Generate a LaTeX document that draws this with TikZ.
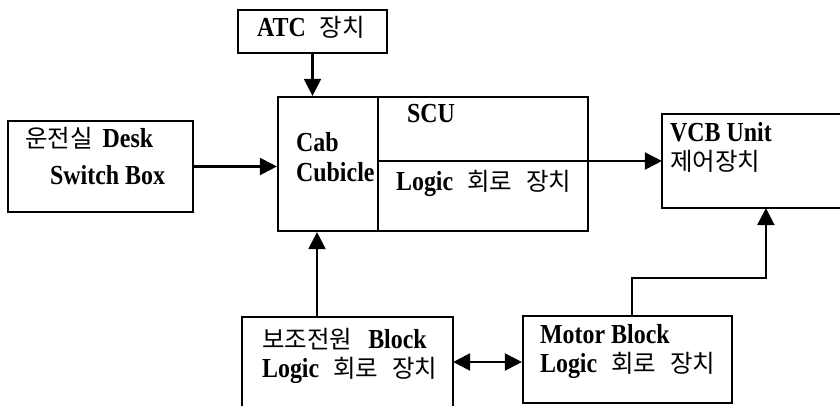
\documentclass[tikz,border=0pt]{standalone}
\usepackage{fontspec}
\setmainfont[FakeStretch=0.87]{Liberation Serif}
\newfontfamily\kfont{Noto Sans CJK KR}
\usetikzlibrary{arrows.meta}
\newcommand\ko[1]{{\kfont\fontsize{24.5}{28}\selectfont\mdseries #1}}
\newcommand\wsp{\hspace{14pt}}
\begin{document}
\begin{tikzpicture}[x=1pt,y=-1pt,line width=2.2pt,
  box/.style={rectangle,inner sep=0pt},
  lbl/.style={anchor=base west,inner sep=0pt,font=\fontsize{27.5}{30}\selectfont\bfseries},
  arr/.style={-{Triangle[length=17pt,width=17pt]}},
  dbl/.style={{Triangle[length=17pt,width=17pt]}-{Triangle[length=17pt,width=17pt]}}]
\useasboundingbox (0,0) rectangle (840,406);
% boxes
\node[box,draw,minimum width=149pt,minimum height=43pt] (atc) at (312.5,31.5) {};
\node[box,draw,minimum width=185pt,minimum height=91pt] (desk) at (100.5,166.5) {};
\node[box,draw,minimum width=310pt,minimum height=134pt] (main) at (433,164) {};
\node[box,minimum width=177pt,minimum height=92pt] (vcb) at (751.5,161) {};
\node[box,minimum width=209pt,minimum height=92pt] (aux) at (347.5,364) {};
\node[box,draw,minimum width=209pt,minimum height=87pt] (motor) at (627.5,359.5) {};
\draw (vcb.north east) -- (vcb.north west) -- (vcb.south west) -- (vcb.south east);
\draw (aux.south west) -- (aux.north west) -- (aux.north east) -- (aux.south east);
% main box dividers
\coordinate (dtop) at ([xshift=101pt]main.north west);
\coordinate (dbot) at ([xshift=101pt]main.south west);
\coordinate (div) at (379,161);
\draw (dtop) -- (dbot);
% labels
\node[lbl] (tatc) at (256,37) {ATC\wsp\ko{장치}};
\node[lbl] (tdesk1) at (24,148) {\ko{운전실}\hspace{10pt}Desk};
\node[lbl] (tdesk2) at (49,185) {Switch Box};
\node[lbl] (tcab1) at (295,152) {Cab};
\node[lbl] (tcab2) at (295,182) {Cubicle};
\node[lbl] (tscu) at (406,123) {SCU};
\node[lbl] (tlog1) at (395,191) {Logic\wsp\ko{회로}\wsp\ko{장치}};
\node[lbl] (tvcb1) at (669,142) {VCB Unit};
\node[lbl] (tvcb2) at (669,171) {\ko{제어장치}};
\node[lbl] (taux1) at (261,348) {\ko{보조전원}\hspace{16pt}Block};
\node[lbl] (taux2) at (261,377) {Logic\wsp\ko{회로}\wsp\ko{장치}};
\node[lbl] (tmot1) at (539,343) {Motor Block};
\node[lbl] (tmot2) at (539,372) {Logic\wsp\ko{회로}\wsp\ko{장치}};
% connectors
\draw[arr] (atc.south) -- (atc.south |- main.north);
\draw[arr] (desk.east) -- (desk.east -| main.west);
\draw[arr] (div) -- (div -| vcb.west);
\coordinate (auxup) at ([xshift=-30.5pt]aux.north);
\draw[arr] (auxup) -- (auxup |- main.south);
\draw[dbl] (aux.east |- 0,362) -- (motor.west |- 0,362);
\coordinate (motup) at ([xshift=4.5pt]motor.north);
\coordinate (vcbin) at ([xshift=104pt]vcb.south west);
\draw[arr] (motup) -- ++(0,-37) -| (vcbin);
\end{tikzpicture}
\end{document}
